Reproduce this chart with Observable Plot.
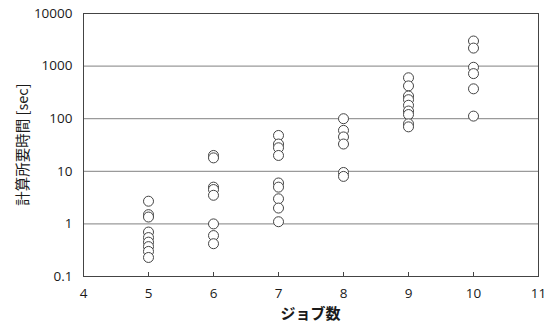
<!DOCTYPE html>
<html>
<head>
<meta charset="utf-8">
<script src="https://cdn.jsdelivr.net/npm/d3@7"></script>
<script src="https://cdn.jsdelivr.net/npm/@observablehq/plot@0.6"></script>
<style>
  html, body { margin: 0; padding: 0; background: #fff; }
  svg { display: block; }
  .lbl text { font-family: "Noto Sans CJK JP", sans-serif; }
</style>
</head>
<body>
<div id="chart"></div>
<script>
// Data
const jobs5 = [2.7, 1.5, 1.35, 0.7, 0.55, 0.45, 0.37, 0.3, 0.23];
const jobs6 = [20, 18, 5, 4.5, 3.5, 1.0, 0.6, 0.42];
const jobs7 = [48, 33, 28, 20, 6, 5, 3, 2, 1.1];
const jobs8 = [100, 60, 45, 33, 9.5, 8];
const jobs9 = [600, 420, 270, 230, 180, 140, 120, 80, 70];
const jobs10 = [3000, 2200, 950, 720, 370, 112];
const xTicks = [4, 5, 6, 7, 8, 9, 10, 11];
const yTicks = [0.1, 1, 10, 100, 1000, 10000];
const gridTicks = [1, 10, 100, 1000];
const xLabel = "ジョブ数";
const yLabel = "計算所要時間 [sec]";

const series = [[5, jobs5], [6, jobs6], [7, jobs7], [8, jobs8], [9, jobs9], [10, jobs10]];
const points = series.flatMap(([n, vals]) => vals.map(v => ({n, t: v})));

const chart = Plot.plot({
  width: 554,
  height: 328,
  marginLeft: 83,
  marginRight: 16,
  marginTop: 13,
  marginBottom: 52,
  style: {fontFamily: "'Open Sans', 'Noto Sans', sans-serif", fontSize: "13.5px", color: "#1a1a1a", background: "#fff"},
  x: {domain: [4, 11]},
  y: {type: "log", domain: [0.1, 10000]},
  marks: [
    Plot.gridY(gridTicks, {stroke: "#9a9a9a", strokeOpacity: 1, strokeWidth: 1.2}),
    Plot.frame({stroke: "#444", strokeWidth: 1}),
    Plot.axisY(yTicks, {tickSize: 0, tickPadding: 11, tickFormat: d => String(d), label: null}),
    Plot.axisX(xTicks, {tickSize: -4, tickPadding: 16, stroke: "#444", tickFormat: d => String(d), label: null}),
    Plot.dot(points, {x: "n", y: "t", r: 5, stroke: "#444", strokeWidth: 1, fill: "white"})
  ]
});

// Axis titles as real text, positioned relative to chart frame
const svg = d3.select(chart);
const g = svg.append("g").attr("class", "lbl");
g.append("text")
  .attr("x", (83 + 538) / 2)
  .attr("y", 314)
  .attr("dy", "0.35em")
  .attr("text-anchor", "middle")
  .attr("font-size", 15)
  .attr("font-weight", "bold")
  .attr("fill", "#1a1a1a")
  .text(xLabel);
g.append("text")
  .attr("transform", `translate(23,${(13 + 276) / 2}) rotate(-90)`)
  .attr("dy", "0.35em")
  .attr("text-anchor", "middle")
  .attr("font-size", 14.5)
  .attr("font-weight", "normal")
  .attr("fill", "#1a1a1a")
  .text(yLabel);

document.getElementById("chart").appendChild(chart);
</script>
</body>
</html>
